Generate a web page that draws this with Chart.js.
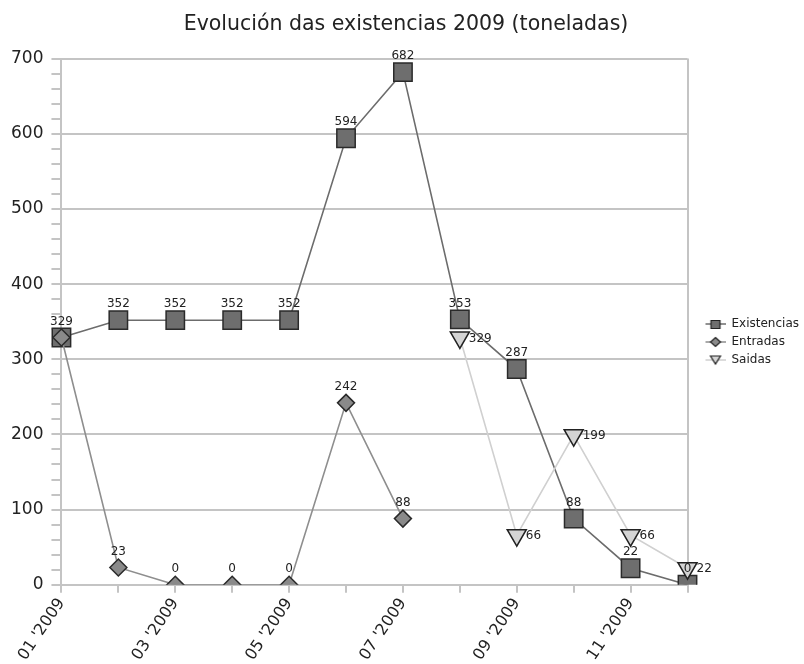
<!DOCTYPE html>
<html lang="gl">
<head>
<meta charset="UTF-8">
<title>Evolución das existencias 2009</title>
<script src="https://cdn.jsdelivr.net/npm/chart.js"></script>
<style>
  html, body { margin: 0; padding: 0; background: #fff; }
</style>
</head>
<body>
<canvas id="graficoExistencias" width="804" height="664"></canvas>

<script>
// datos
const meses = ["01 '2009", "02 '2009", "03 '2009", "04 '2009", "05 '2009", "06 '2009",
               "07 '2009", "08 '2009", "09 '2009", "10 '2009", "11 '2009", "12 '2009"];
const existencias = [329, 352, 352, 352, 352, 594, 682, 353, 287, 88, 22, 0];
const entradas = [329, 23, 0, 0, 0, 242, 88, null, null, null, null, null];
const saidas = [null, null, null, null, null, null, null, 329, 66, 199, 66, 22];

const cinzaGrella = '#c4c4c4';

Chart.defaults.font.family = '"DejaVu Sans", sans-serif';
Chart.defaults.color = '#222';

// icona da lenda: liña con marcador, pegada á dereita dun lenzo de 32 px
function iconoLenda(tipo, corLinha, recheo) {
    const c = document.createElement('canvas');
    c.width = 32; c.height = 12;
    const g = c.getContext('2d');
    g.translate(12, 0);
    g.strokeStyle = corLinha;
    g.lineWidth = 1.5;
    g.beginPath(); g.moveTo(0, 6); g.lineTo(20, 6); g.stroke();
    g.fillStyle = recheo;
    g.strokeStyle = '#222';
    g.lineWidth = 1.2;
    g.beginPath();
    if (tipo === 'cadrado') {
        g.rect(5.5, 2.5, 9, 8);
    } else if (tipo === 'diamante') {
        g.moveTo(10, 1.5); g.lineTo(15, 6); g.lineTo(10, 10.5); g.lineTo(5, 6); g.closePath();
    } else {
        g.moveTo(5, 2); g.lineTo(15, 2); g.lineTo(10, 10); g.closePath();
    }
    g.fill(); g.stroke();
    return c;
}

const iconas = [
    iconoLenda('cadrado', '#6c6c6c', '#6e6e6e'),
    iconoLenda('diamante', '#8e8e8e', '#8a8a8a'),
    iconoLenda('triangulo', '#cfcfcf', '#d4d4d4')
];

// etiquetas cos valores de cada punto
const posicionEtiqueta = ['enriba', 'enriba', 'dereita'];
const etiquetasValores = {
    id: 'etiquetasValores',
    afterDatasetsDraw(chart) {
        const ctx = chart.ctx;
        const datasets = chart.data.datasets;
        ctx.save();
        ctx.font = '12px "DejaVu Sans"';
        ctx.fillStyle = '#222';
        datasets.forEach((ds, i) => {
            const meta = chart.getDatasetMeta(i);
            meta.data.forEach((pt, j) => {
                const v = ds.data[j];
                if (v === null) return;
                // non repetir a etiqueta se a serie anterior ten o mesmo valor no mesmo mes
                if (i > 0 && posicionEtiqueta[i] === posicionEtiqueta[i - 1] && datasets[i - 1].data[j] === v) return;
                if (posicionEtiqueta[i] === 'dereita') {
                    ctx.textAlign = 'left';
                    ctx.textBaseline = 'middle';
                    ctx.fillText(v, pt.x + 9, pt.y + 1);
                } else {
                    ctx.textAlign = 'center';
                    ctx.textBaseline = 'bottom';
                    ctx.fillText(v, pt.x, pt.y - 10);
                }
            });
        });
        ctx.restore();
    }
};

const ctx = document.getElementById('graficoExistencias').getContext('2d');
const chart = new Chart(ctx, {
    type: 'line',
    data: {
        labels: meses,
        datasets: [
            {
                label: 'Existencias',
                data: existencias,
                borderColor: '#6c6c6c',
                borderWidth: 1.6,
                backgroundColor: '#6e6e6e',
                pointBackgroundColor: '#6e6e6e',
                pointBorderColor: '#2a2a2a',
                pointBorderWidth: 1.5,
                pointStyle: 'rect',
                pointRadius: 13,
                pointHoverRadius: 13,
                tension: 0,
                order: 2
            },
            {
                label: 'Entradas',
                data: entradas,
                borderColor: '#8e8e8e',
                borderWidth: 1.6,
                backgroundColor: '#8a8a8a',
                pointBackgroundColor: '#8a8a8a',
                pointBorderColor: '#2a2a2a',
                pointBorderWidth: 1.5,
                pointStyle: 'rectRot',
                pointRadius: 8.5,
                pointHoverRadius: 8.5,
                tension: 0,
                spanGaps: false,
                order: 1
            },
            {
                label: 'Saidas',
                data: saidas,
                borderColor: '#d0d0d0',
                borderWidth: 1.6,
                backgroundColor: '#d4d4d4',
                pointBackgroundColor: '#d4d4d4',
                pointBorderColor: '#222',
                pointBorderWidth: 1.5,
                pointStyle: 'triangle',
                pointRotation: 180,
                pointRadius: 11,
                pointHoverRadius: 11,
                tension: 0,
                order: 0
            }
        ]
    },
    options: {
        responsive: false,
        animation: false,
        layout: {
            padding: { left: 3, right: -5, top: 10, bottom: -2 }
        },
        plugins: {
            title: {
                display: true,
                text: 'Evolución das existencias 2009 (toneladas)',
                font: { size: 20.5, weight: 'normal' },
                color: '#222',
                padding: { top: 2, bottom: 22 }
            },
            legend: {
                display: true,
                position: 'right',
                title: { display: true, text: ' ', font: { size: 5 }, padding: 1 },
                labels: {
                    usePointStyle: true,
                    pointStyleWidth: 32,
                    boxHeight: 12,
                    padding: 6,
                    font: { size: 12 },
                    color: '#222',
                    generateLabels: (c) => c.data.datasets.map((ds, i) => ({
                        text: ds.label,
                        pointStyle: iconas[i],
                        datasetIndex: i,
                        hidden: false,
                        lineWidth: 0,
                        fillStyle: 'transparent',
                        strokeStyle: 'transparent'
                    }))
                }
            },
            tooltip: { enabled: false }
        },
        scales: {
            x: {
                offset: false,
                border: { color: cinzaGrella, width: 2 },
                grid: {
                    color: (c) => c.index === meses.length - 1 ? cinzaGrella : 'rgba(0,0,0,0)',
                    tickColor: cinzaGrella,
                    lineWidth: 2,
                    tickLength: 8
                },
                ticks: {
                    autoSkip: false,
                    minRotation: 56,
                    maxRotation: 56,
                    padding: 2,
                    font: { size: 16 },
                    color: '#222',
                    callback: (val, i) => i % 2 === 0 ? meses[i] : ''
                }
            },
            y: {
                min: 0,
                max: 700,
                border: { color: cinzaGrella, width: 2 },
                grid: {
                    color: (c) => c.tick && c.tick.value % 100 === 0 ? cinzaGrella : 'rgba(0,0,0,0)',
                    tickColor: cinzaGrella,
                    lineWidth: 2,
                    tickLength: 10
                },
                ticks: {
                    stepSize: 20,
                    autoSkip: false,
                    padding: 8,
                    font: { size: 17 },
                    color: '#222',
                    callback: (v) => v % 100 === 0 ? v : ''
                }
            }
        }
    },
    plugins: [etiquetasValores]
});
</script>
</body>
</html>
